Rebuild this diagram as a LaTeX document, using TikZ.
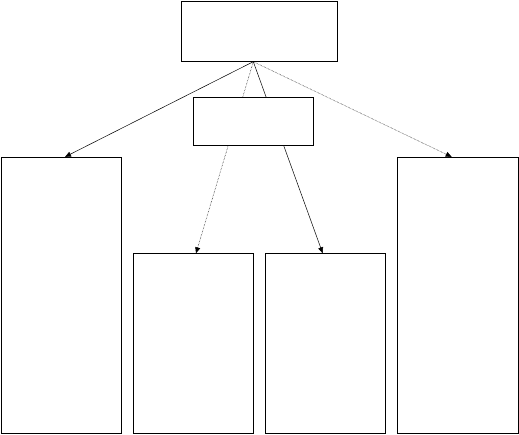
\documentclass[tikz,border=0pt]{standalone}
\usetikzlibrary{arrows.meta}
\begin{document}
\begin{tikzpicture}[x=1pt,y=-1pt,
  box/.style={draw=black,line width=0.8pt,fill=white,inner sep=0pt},
  conn/.style={line width=0.5pt,-{Triangle[length=6pt,width=5pt]}}]
\useasboundingbox (0,0) rectangle (519,435);
\node[box,minimum width=155.6pt,minimum height=59.6pt] (top) at (259.5,31.5) {};
\node[box,minimum width=119.3pt,minimum height=276pt] (b1) at (61.3,295.3) {};
\node[box,minimum width=120pt,minimum height=179.6pt] (b2) at (193.3,343.5) {};
\node[box,minimum width=120.4pt,minimum height=179.6pt] (b3) at (325.5,343.5) {};
\node[box,minimum width=120.7pt,minimum height=276pt] (b4) at (457.7,295.3) {};
\coordinate (apex) at ([xshift=-6.2pt]top.south);
\draw[conn] (apex) -- ([xshift=3.7pt]b1.north);
\draw[conn,densely dotted] (apex) -- ([xshift=2.7pt]b2.north);
\draw[conn] (apex) -- ([xshift=-2.8pt]b3.north);
\draw[conn,densely dotted] (apex) -- ([xshift=-6pt]b4.north);
\node[box,minimum width=120pt,minimum height=48pt] (mid) at (253.3,121) {};
\end{tikzpicture}
\end{document}
